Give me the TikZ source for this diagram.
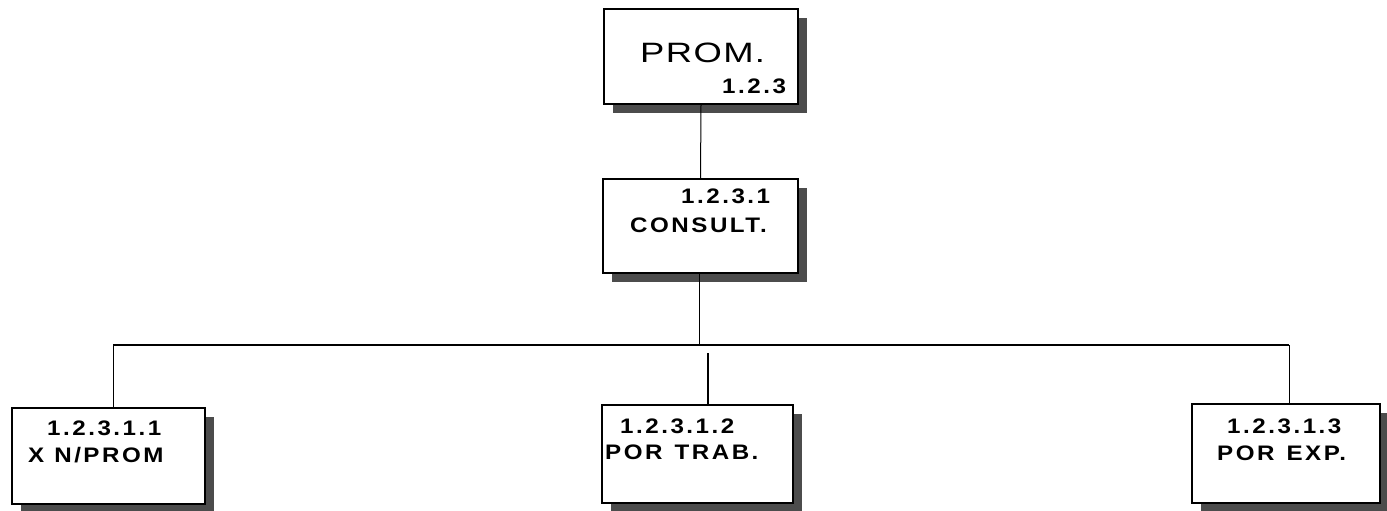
\documentclass[tikz,border=0pt]{standalone}
\usepackage{fontspec}
\setmainfont{Liberation Sans}
\newfontfamily\boxfont[FakeStretch=1.15,LetterSpace=12]{Liberation Sans}
\newfontfamily\promfont[FakeStretch=1.3,LetterSpace=5]{Liberation Sans}
\usetikzlibrary{shadows}
\tikzset{
  orgbox/.style={draw=black, line width=1.6pt, fill=white, rectangle, inner sep=0pt,
    drop shadow={shadow xshift=9pt, shadow yshift=-9pt, fill=black!70, opacity=1}},
  lbl/.style={anchor=base west, inner sep=0pt, font=\boxfont\bfseries\fontsize{21}{24}\selectfont},
  biglbl/.style={anchor=base west, inner sep=0pt, font=\promfont\fontsize{28}{32}\selectfont},
  conn/.style={draw=black, line width=1pt}
}
\begin{document}
\begin{tikzpicture}[x=1pt, y=-1pt]
\useasboundingbox (0,0) rectangle (1387,511);
% boxes
\node[orgbox, minimum width=194pt, minimum height=95pt] (prom) at (701,56.5) {};
\node[orgbox, minimum width=195pt, minimum height=94pt] (consult) at (700.5,226) {};
\node[orgbox, minimum width=193pt, minimum height=96pt] (b1) at (108.5,456) {};
\node[orgbox, minimum width=191pt, minimum height=98pt] (b2) at (697.5,454) {};
\node[orgbox, minimum width=188pt, minimum height=99pt] (b3) at (1286,453.5) {};
% labels
\node[biglbl] (tprom) at (640,63) {PROM.};
\node[lbl] (nprom) at (722,93) {1.2.3};
\node[lbl] (ncons) at (681,203) {1.2.3.1};
\node[lbl] (tcons) at (630,232) {CONSULT.};
\node[lbl] (nb1) at (47,435) {1.2.3.1.1};
\node[lbl] (tb1) at (28,462) {X\hspace{10pt}N/PROM};
\node[lbl] (nb2) at (620,433) {1.2.3.1.2};
\node[lbl] (tb2) at (605,459) {POR\hspace{12pt}TRAB.};
\node[lbl] (nb3) at (1227,433) {1.2.3.1.3};
\node[lbl] (tb3) at (1217,460) {POR\hspace{12pt}EXP.};
% connectors
\coordinate (busL) at (113,345);
\coordinate (busR) at (1289,345);
\coordinate (busM) at (699,345);
\coordinate (gap) at (708,353);
\draw[conn] (prom.south) -- (consult.north);
\draw[conn] (consult.south -| busM) -- (busM);
\draw[conn, line width=1.3pt] (busL) -- (busR);
\draw[conn] (busL) -- (busL |- b1.north);
\draw[conn, line width=1.6pt] (gap) -- (gap |- b2.north);
\draw[conn] (busR) -- (busR |- b3.north);
\end{tikzpicture}
\end{document}
